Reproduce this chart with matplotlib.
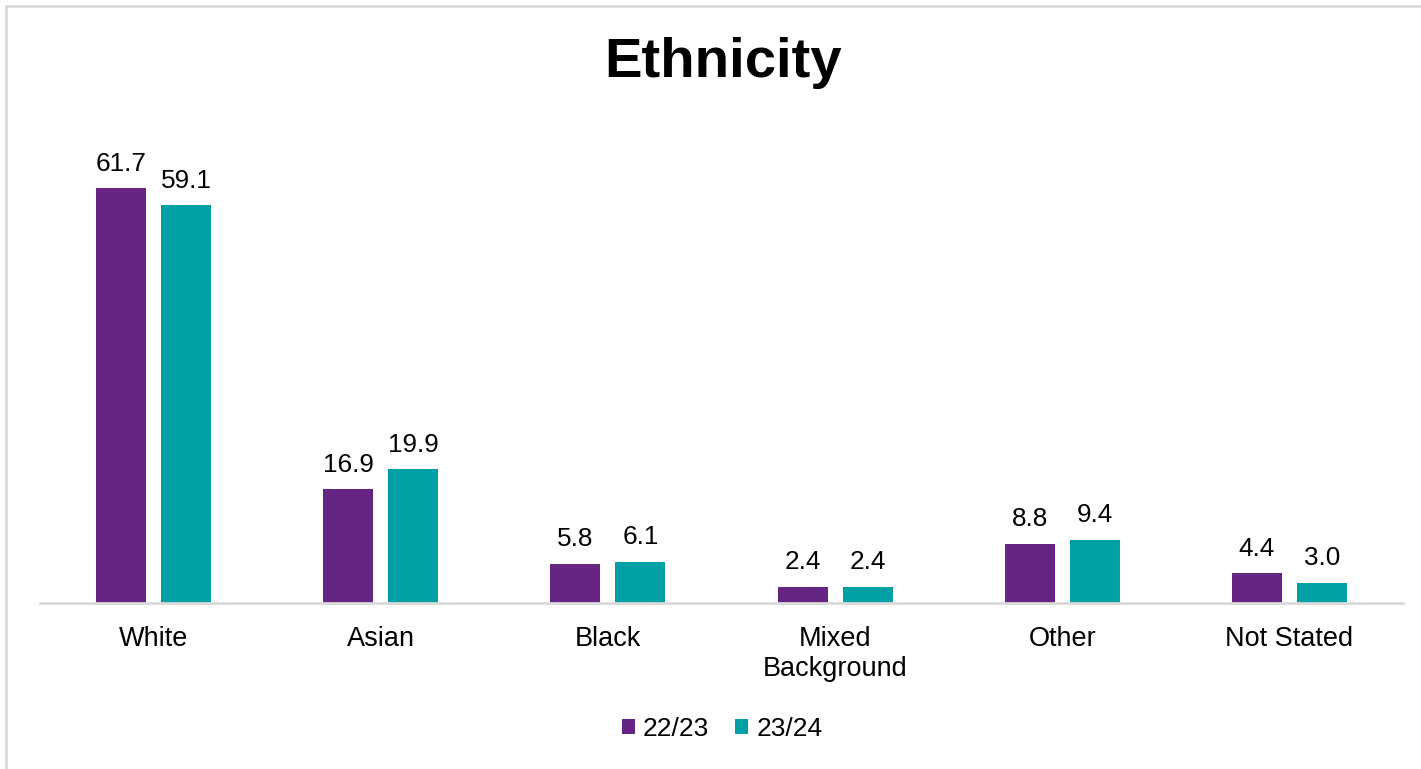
import numpy as np
import matplotlib.pyplot as plt
from matplotlib.patches import Rectangle

plt.rcParams['font.family'] = ['Liberation Sans', 'DejaVu Sans']

categories = ['White', 'Asian', 'Black', 'Mixed\nBackground', 'Other', 'Not Stated']
y2223 = [61.7, 16.9, 5.8, 2.4, 8.8, 4.4]
y2324 = [59.1, 19.9, 6.1, 2.4, 9.4, 3.0]
series = ['22/23', '23/24']
colors = ['#662483', '#00A0A4']

fig = plt.figure(figsize=(14.21, 7.69), dpi=100)
ax = fig.add_axes([40 / 1421, 1 - 603 / 769, 1363 / 1421, 430 / 769])

x = np.arange(len(categories))
w = 0.22
off = 0.143
b1 = ax.bar(x - off, y2223, w, color=colors[0], label=series[0])
b2 = ax.bar(x + off, y2324, w, color=colors[1], label=series[1])

for bars, vals in ((b1, y2223), (b2, y2324)):
    for r, v in zip(bars, vals):
        ax.annotate(f'{v:.1f}', (r.get_x() + r.get_width() / 2, v),
                    xytext=(0, 9), textcoords='offset points',
                    ha='center', va='bottom', fontsize=18.8, color='#000000')

ax.set_xlim(-0.5, len(categories) - 0.5)
ax.set_ylim(0, 430 / 6.726)
ax.set_xticks(x)
ax.set_xticklabels(categories, fontsize=19.5, linespacing=1.2)
ax.tick_params(axis='x', length=0, pad=16.5)
ax.set_yticks([])
for s in ['top', 'right', 'left']:
    ax.spines[s].set_visible(False)
ax.spines['bottom'].set_color('#d9d9d9')
ax.spines['bottom'].set_linewidth(2)

fig.text(723 / 1421, 1 - 63 / 769, 'Ethnicity', ha='center', va='center',
         fontsize=40.5, fontweight='bold')

fig.legend(loc='center', bbox_to_anchor=(722 / 1421, 1 - 729 / 769), ncol=2,
           frameon=False, fontsize=19, handlelength=0.5, handleheight=0.5,
           handletextpad=0.3, columnspacing=1.0)

# light frame around the chart area
fig.patches.append(Rectangle((6 / 1421, -0.01), 1.02, 1 - 6 / 769 + 0.01,
                             transform=fig.transFigure, fill=False,
                             edgecolor='#d9d9d9', linewidth=2))

fig.savefig('out.png', dpi=100)
